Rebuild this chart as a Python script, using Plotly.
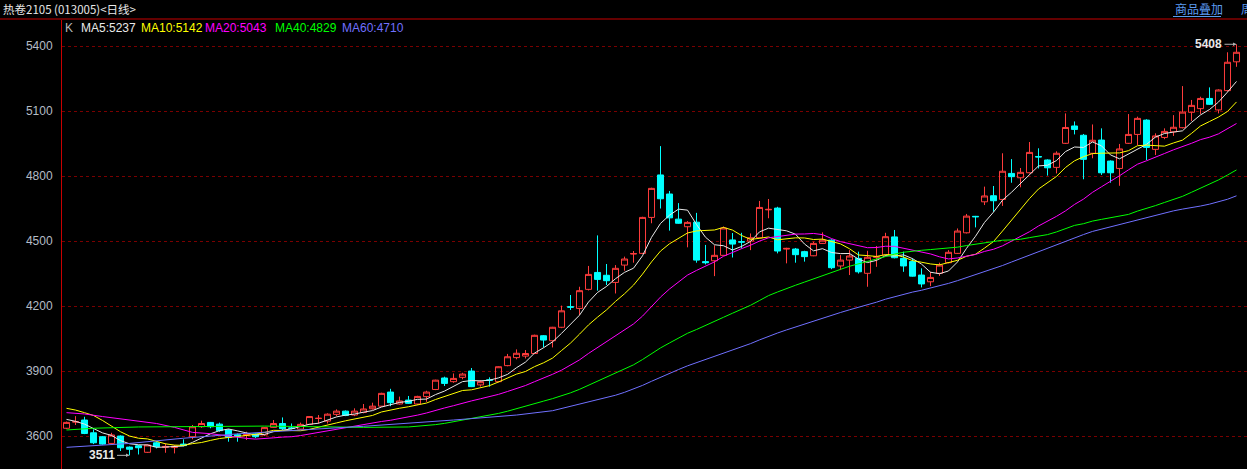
import plotly.graph_objects as go
import pandas as pd

# ---------------- data ----------------
opens = [3636, 3665, 3674, 3615, 3597, 3566, 3600, 3549, 3555, 3525,
         3569, 3548, 3547, 3563, 3597, 3643, 3663, 3655, 3628, 3606,
         3603, 3610, 3605, 3640, 3658, 3637, 3632, 3654, 3681, 3669,
         3700, 3715, 3697, 3709, 3726, 3738, 3803, 3748, 3766, 3748,
         3782, 3815, 3868, 3851, 3871, 3900, 3836, 3859, 3851, 3925,
         3962, 3969, 3981, 4063, 4040, 4102, 4197, 4189, 4277, 4355,
         4342, 4309, 4389, 4440, 4443, 4609, 4805, 4717, 4601, 4566,
         4587, 4405, 4409, 4434, 4505, 4497, 4500, 4515, 4644, 4652,
         4463, 4463, 4451, 4432, 4489, 4504, 4385, 4412, 4420, 4351,
         4425, 4435, 4519, 4420, 4405, 4343, 4312, 4351, 4400, 4443,
         4538, 4614, 4681, 4709, 4692, 4812, 4792, 4815, 4890, 4874,
         4840, 4951, 5031, 4988, 4905, 4966, 4869, 4835, 4951, 4992,
         5058, 4923, 4978, 5004, 5023, 5094, 5111, 5158, 5105, 5194,
         5327]
highs = [3667, 3692, 3689, 3631, 3600, 3615, 3603, 3552, 3558, 3561,
         3574, 3566, 3558, 3585, 3651, 3671, 3665, 3662, 3632, 3612,
         3620, 3612, 3642, 3674, 3686, 3658, 3662, 3692, 3697, 3705,
         3723, 3718, 3728, 3748, 3754, 3800, 3818, 3782, 3785, 3786,
         3809, 3860, 3874, 3889, 3892, 3914, 3858, 3871, 3922, 3979,
         4000, 3997, 4068, 4066, 4104, 4202, 4251, 4289, 4385, 4526,
         4394, 4389, 4428, 4454, 4612, 4746, 4938, 4731, 4675, 4592,
         4630, 4482, 4480, 4567, 4537, 4538, 4535, 4685, 4694, 4658,
         4469, 4468, 4455, 4497, 4540, 4508, 4435, 4458, 4451, 4455,
         4477, 4538, 4551, 4451, 4420, 4374, 4358, 4400, 4458, 4558,
         4625, 4616, 4751, 4754, 4905, 4878, 4837, 4957, 4928, 4877,
         4914, 5089, 5052, 4994, 5038, 5020, 4872, 4948, 5086, 5074,
         5062, 4997, 5020, 5081, 5215, 5151, 5166, 5209, 5200, 5371,
         5408]
lows = [3632, 3651, 3609, 3563, 3560, 3563, 3531, 3511, 3515, 3522,
        3543, 3523, 3520, 3553, 3585, 3638, 3636, 3620, 3574, 3574,
        3582, 3590, 3600, 3638, 3628, 3631, 3630, 3652, 3658, 3658,
        3692, 3692, 3692, 3705, 3722, 3735, 3738, 3745, 3748, 3745,
        3758, 3812, 3831, 3846, 3862, 3826, 3828, 3828, 3848, 3922,
        3954, 3958, 3978, 4009, 4009, 4098, 4182, 4159, 4272, 4271,
        4297, 4258, 4363, 4400, 4440, 4582, 4650, 4548, 4580, 4471,
        4400, 4392, 4338, 4432, 4424, 4466, 4458, 4512, 4605, 4443,
        4397, 4400, 4405, 4430, 4487, 4370, 4366, 4343, 4350, 4289,
        4381, 4432, 4420, 4358, 4336, 4286, 4292, 4339, 4397, 4440,
        4535, 4563, 4666, 4635, 4662, 4769, 4748, 4812, 4835, 4802,
        4812, 4948, 4992, 4785, 4882, 4805, 4769, 4755, 4948, 4943,
        4874, 4897, 4970, 4985, 5020, 5054, 5086, 5128, 5089, 5190,
        5304]
closes = [3663, 3666, 3612, 3569, 3563, 3605, 3546, 3539, 3546, 3559,
          3551, 3552, 3553, 3556, 3643, 3658, 3643, 3625, 3594, 3600,
          3608, 3597, 3639, 3658, 3634, 3636, 3654, 3690, 3682, 3701,
          3715, 3695, 3715, 3725, 3738, 3797, 3754, 3762, 3751, 3783,
          3803, 3858, 3843, 3866, 3886, 3828, 3851, 3858, 3920, 3966,
          3982, 3981, 4065, 4043, 4102, 4178, 4195, 4271, 4346, 4323,
          4317, 4374, 4417, 4442, 4609, 4743, 4695, 4607, 4582, 4586,
          4412, 4400, 4434, 4560, 4486, 4495, 4515, 4655, 4646, 4454,
          4466, 4437, 4428, 4489, 4504, 4377, 4412, 4431, 4358, 4425,
          4428, 4520, 4423, 4385, 4338, 4302, 4332, 4389, 4448, 4546,
          4615, 4612, 4708, 4686, 4822, 4797, 4817, 4909, 4888, 4838,
          4905, 5024, 5015, 4877, 4965, 4815, 4815, 4925, 4992, 5066,
          4932, 4985, 5006, 5025, 5095, 5126, 5158, 5131, 5197, 5325,
          5371]

# moving-average values before enough history exists
ma5_head_idx = [0, 1, 2, 3]
ma5_head = [3677, 3668, 3655, 3635]
ma10_head_idx = [0, 1, 2, 3, 4, 5, 6, 7, 8]
ma10_head = [3728, 3720, 3708, 3695, 3672, 3645, 3620, 3600, 3590]
ma20_head_idx = [0, 2, 4, 7, 10, 12, 13, 14, 16, 18]
ma20_head = [3708, 3702, 3690, 3675, 3658, 3640, 3627, 3617, 3611, 3600]
ma40_head_idx = [0, 3, 8, 15, 22, 28, 33, 38]
ma40_head = [3628, 3636, 3642, 3645, 3646, 3643, 3640, 3642]
ma60_head_idx = [0, 7, 13, 19, 26, 33, 43, 50, 54, 58]
ma60_head = [3548, 3566, 3590, 3610, 3628, 3645, 3674, 3697, 3717, 3756]

ma_periods = [5, 10, 20, 40, 60]
ma_labels = ["MA5:5237", "MA10:5142", "MA20:5043", "MA40:4829", "MA60:4710"]
ma_colors = ["#e8e8e8", "#ffff00", "#ff00ff", "#00ff00", "#7070ff"]
ma_heads = [(ma5_head_idx, ma5_head), (ma10_head_idx, ma10_head),
            (ma20_head_idx, ma20_head), (ma40_head_idx, ma40_head),
            (ma60_head_idx, ma60_head)]

y_ticks = [3600, 3900, 4200, 4500, 4800, 5100, 5400]
title_text = "热卷2105 (013005)<日线>"
high_label = "5408"
low_label = "3511"

# ---------------- figure ----------------
W, H = 1247, 469
ML, MT = 62, 20
PW, PH = W - ML, H - MT

x = list(range(len(closes)))

fig = go.Figure()
fig.add_trace(go.Candlestick(
    x=x, open=opens, high=highs, low=lows, close=closes,
    increasing=dict(line=dict(color="#ff3c3c", width=1), fillcolor="rgba(0,0,0,0)"),
    decreasing=dict(line=dict(color="#00ffff", width=1), fillcolor="#00ffff"),
    whiskerwidth=0, hoverinfo="skip", showlegend=False,
))

cs = pd.Series(closes, dtype=float)
for n, (hi, hv), col in zip(ma_periods, ma_heads, ma_colors):
    comp = cs.rolling(n).mean()
    xs = list(hi) + list(range(n - 1, len(closes)))
    ys = list(hv) + [float(v) for v in comp.iloc[n - 1:]]
    fig.add_trace(go.Scatter(x=xs, y=ys, mode="lines",
                             line=dict(color=col, width=1),
                             hoverinfo="skip", showlegend=False))

def px_x(p):
    return (p - ML) / PW

def px_y(p):
    return 1 - (p - MT) / PH

annotations = []
# title bar
annotations.append(dict(text=title_text, xref="paper", yref="paper",
                        x=px_x(1), y=px_y(9), xanchor="left", yanchor="middle",
                        showarrow=False,
                        font=dict(family="Noto Sans CJK SC", size=11.5, color="#e8e8e8")))
annotations.append(dict(text="商品叠加", xref="paper", yref="paper",
                        x=px_x(1173), y=px_y(9), xanchor="left", yanchor="middle",
                        showarrow=False,
                        font=dict(family="Noto Sans CJK SC", size=12, color="#5b9bf0")))
annotations.append(dict(text="周", xref="paper", yref="paper",
                        x=px_x(1239), y=px_y(9), xanchor="left", yanchor="middle",
                        showarrow=False,
                        font=dict(family="Noto Sans CJK SC", size=12, color="#5b9bf0")))
# legend row
annotations.append(dict(text="K", xref="paper", yref="paper",
                        x=px_x(63), y=px_y(28), xanchor="left", yanchor="middle",
                        showarrow=False,
                        font=dict(family="Arial", size=12, color="#b8b8b8")))
leg_x = [79, 139, 203, 273, 340]
for lx, lab, col in zip(leg_x, ma_labels, ma_colors):
    annotations.append(dict(text=lab, xref="paper", yref="paper",
                            x=px_x(lx), y=px_y(28), xanchor="left", yanchor="middle",
                            showarrow=False,
                            font=dict(family="Arial", size=12, color=col)))
# high / low markers
hi_i = highs.index(max(highs))
lo_i = lows.index(min(lows))
for lab, xi, yv in [(high_label, hi_i, max(highs)), (low_label, lo_i, min(lows))]:
    annotations.append(dict(text="<b>" + lab + "</b>", x=xi, y=yv, xref="x", yref="y",
                            showarrow=True, ax=-28, ay=0, axref="pixel", ayref="pixel",
                            arrowhead=2, arrowsize=0.7, arrowwidth=1,
                            arrowcolor="#b0b0b0", standoff=0, startstandoff=1,
                            font=dict(family="Arial", size=12, color="#e8e8e8")))

shapes = [
    dict(type="line", xref="paper", yref="paper", x0=px_x(0), x1=px_x(W + 5),
         y0=px_y(19), y1=px_y(19), line=dict(color="#c80000", width=1)),
    dict(type="line", xref="paper", yref="paper", x0=px_x(1173), x1=px_x(1221),
         y0=px_y(16.5), y1=px_y(16.5), line=dict(color="#5b9bf0", width=1)),
]

fig.update_layout(
    width=W, height=H,
    margin=dict(l=ML, r=0, t=MT, b=0, pad=0),
    paper_bgcolor="#000000", plot_bgcolor="#000000",
    boxgap=0.33, boxgroupgap=0,
    annotations=annotations, shapes=shapes,
    showlegend=False, hovermode=False,
    xaxis=dict(range=[-0.5, -0.5 + PW / 9.0], visible=False,
               rangeslider=dict(visible=False), fixedrange=True),
    yaxis=dict(range=[3448, 5520], tickvals=y_ticks,
               ticktext=[str(v) for v in y_ticks],
               showgrid=True, gridcolor="#7a0000", griddash="dot", gridwidth=1,
               zeroline=False, showline=True, linecolor="#c80000", linewidth=1,
               ticks="", ticklabelstandoff=6,
               tickfont=dict(family="Arial", size=12, color="#b4bcc6"),
               fixedrange=True),
)

fig.write_html("out.html", config={"displayModeBar": False},
               post_script="document.body.style.margin='0';document.body.style.background='#000';")
